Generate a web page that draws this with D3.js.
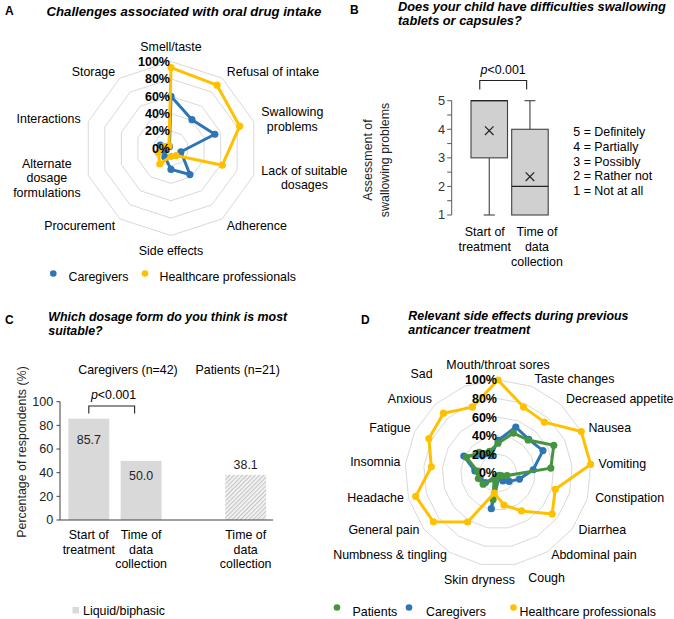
<!DOCTYPE html>
<html><head><meta charset="utf-8">
<script src="https://cdn.jsdelivr.net/npm/d3@7"></script>
<style>body{margin:0;background:#fff} svg{display:block} text{font-family:"Liberation Sans",Arial,sans-serif;}</style>
</head><body><svg id="chart" width="674" height="619"></svg>
<script>
// ---------- DATA ----------
// Panel A
const challengeCategories = ["Smell/taste","Refusal of intake","Swallowing\nproblems","Lack of suitable\ndosages","Adherence","Side effects","Procurement","Alternate\ndosage\nformulations","Interactions","Storage"];
const challengeCaregivers = [60,41,53,12,37,24,12,8,13,3];
const challengeHCP = [93,90,83,62,10,9,22,15,8,4];
const radarTicks = [0,20,40,60,80,100];

// Panel B
const boxCategories = ["Start of\ntreatment","Time of\ndata\ncollection"];
const boxMin = [1,1];
const boxQ1 = [3,1];
const boxMedian = [5,2];
const boxQ3 = [5,4];
const boxMax = [5,5];
const boxMean = [3.95,2.34];
const boxTicks = [1,2,3,4,5];
const boxScaleLabels = ["5 = Definitely","4 = Partially","3 = Possibly","2 = Rather not","1 = Not at all"];

// Panel C
const dosageSlots = ["cgStart","cgTime","spacer","ptTime"];
const dosageBarKeys = ["cgStart","cgTime","ptTime"];
const dosageBarLabels = ["Start of\ntreatment","Time of\ndata\ncollection","Time of\ndata\ncollection"];
const dosageValues = [85.7,50.0,38.1];
const dosageTicks = [0,20,40,60,80,100];
const dosageGroups = ["Caregivers (n=42)","Patients (n=21)"];

// Panel D
const sideEffectCategories = ["Mouth/throat sores","Taste changes","Decreased appetite","Nausea","Vomiting","Constipation","Diarrhea","Abdominal pain","Cough","Skin dryness","Numbness & tingling","General pain","Headache","Insomnia","Fatigue","Anxious","Sad"];
const sideEffectPatients   = [32,46,48,67,57,10,5,3,3,29,8,20,22,22,38,30,25];
const sideEffectCaregivers = [35,53,49,54,38,24,15,10,5,39,5,17,20,25,41,25,20];
const sideEffectHCP        = [100,76,74,100,100,64,73,48,35,22,62,87,92,72,83,87,76];

// ---------- STYLE ----------
const FS = 12.4;
const BLUE = "#2E75B6", YELLOW = "#FFC000", GREEN = "#479440";
const svg = d3.select("#chart");
svg.append("rect").attr("width",674).attr("height",619).attr("fill","#fff");
const defs = svg.append("defs");
const pat = defs.append("pattern").attr("id","hatch").attr("patternUnits","userSpaceOnUse")
  .attr("width",3).attr("height",3).attr("patternTransform","rotate(45)");
pat.append("rect").attr("width",3).attr("height",3).attr("fill","#f4f4f4");
pat.append("line").attr("x1",0.5).attr("y1",0).attr("x2",0.5).attr("y2",3).attr("stroke","#c4c4c4").attr("stroke-width",1.2);

function multiText(g, str, x, y, lh, opts={}) {
  const lines = str.split("\n");
  const n = lines.length;
  const t = g.append("text").attr("font-size", opts.size||FS).attr("fill", opts.fill||"#000")
    .attr("text-anchor","middle");
  if (opts.weight) t.attr("font-weight", opts.weight);
  if (opts.style) t.attr("font-style", opts.style);
  lines.forEach((l,i)=>t.append("tspan").attr("x",0).attr("y",(i-(n-1)/2)*lh).attr("dy","0.35em").text(l));
  let w = 0;
  t.selectAll("tspan").each(function(){ w = Math.max(w, this.getComputedTextLength()); });
  let cx = x;
  if (opts.anchor === "start") cx = x + w/2;
  else if (opts.anchor === "end") cx = x - w/2;
  t.attr("transform", `translate(${cx},${y})`);
  return t;
}
function leftText(g, str, x, y, lh, opts={}) {
  const lines = str.split("\n");
  const t = g.append("text").attr("font-size", opts.size||FS).attr("fill", opts.fill||"#000");
  if (opts.weight) t.attr("font-weight", opts.weight);
  if (opts.style) t.attr("font-style", opts.style);
  lines.forEach((l,i)=>t.append("tspan").attr("x",x).attr("y",y+i*lh).attr("dy","0.35em").text(l));
  return t;
}

// ---------- RADAR ----------
function radar(g, cx, cy, R, cats, series, nudges) {
  const n = cats.length;
  const ang = i => i*2*Math.PI/n;
  const r = d3.scaleLinear().domain([0,100]).range([0,R]);
  const root = g.append("g").attr("transform",`translate(${cx},${cy})`);
  radarTicks.filter(v=>v>0).forEach(v=>{
    const pts = d3.range(n).map(i=>[r(v)*Math.sin(ang(i)), -r(v)*Math.cos(ang(i))]);
    root.append("polygon").attr("points", pts.map(p=>p.join(",")).join(" "))
      .attr("fill","none").attr("stroke","#d9d9d9").attr("stroke-width",1);
  });
  const line = d3.lineRadial().angle((d,i)=>ang(i)).radius(d=>r(d)).curve(d3.curveLinearClosed);
  series.forEach(s=>{
    root.append("path").datum(s.values).attr("d", line).attr("fill","none")
      .attr("stroke", s.color).attr("stroke-width",3).attr("stroke-linejoin","round");
    root.selectAll(null).data(s.values).join("circle")
      .attr("cx",(d,i)=>r(d)*Math.sin(ang(i))).attr("cy",(d,i)=>-r(d)*Math.cos(ang(i)))
      .attr("r",3.6).attr("fill", s.color);
  });
  const RL = R + 8, lh = 14.5;
  cats.forEach((c,i)=>{
    const a = ang(i), s = Math.sin(a), co = Math.cos(a);
    let px = RL*s, py = -RL*co;
    const nl = c.split("\n").length;
    let anchor = "middle";
    if (s > 0.2) anchor = "start"; else if (s < -0.2) anchor = "end";
    if (anchor === "middle") py += -co*(nl*lh)/2;
    const nd = (nudges && nudges[c]) || [0,0];
    multiText(root, c, px+nd[0], py+nd[1], lh, {anchor});
  });
  radarTicks.forEach(v=>{
    root.append("text").attr("x",-1).attr("y",-r(v)).attr("dy","0.35em")
      .attr("text-anchor","end").attr("font-size",12.5).attr("font-weight","bold").attr("fill","#000")
      .text(v+"%");
  });
}

// ---------- PANEL A ----------
const gA = svg.append("g");
gA.append("text").attr("x",5).attr("y",11).attr("dy","0.35em").attr("font-size",12).attr("font-weight","bold").text("A");
leftText(gA, "Challenges associated with oral drug intake", 46.5, 11, 14, {weight:"bold", style:"italic", size:13.2});
radar(gA, 171, 148.5, 87, challengeCategories, [
  {values: challengeCaregivers, color: BLUE},
  {values: challengeHCP, color: YELLOW}
], {});
gA.append("circle").attr("cx",53.3).attr("cy",273.5).attr("r",3.3).attr("fill",BLUE);
leftText(gA, "Caregivers", 68.5, 277, 14);
gA.append("circle").attr("cx",145).attr("cy",273.5).attr("r",3.3).attr("fill",YELLOW);
leftText(gA, "Healthcare professionals", 159.5, 277, 14);

// ---------- PANEL B ----------
const gB = svg.append("g");
gB.append("text").attr("x",350).attr("y",10).attr("dy","0.35em").attr("font-size",12).attr("font-weight","bold").text("B");
leftText(gB, "Does your child have difficulties swallowing\ntablets or capsules?", 398, 6.5, 14.5, {weight:"bold", style:"italic", size:12.8});
const yB = d3.scaleLinear().domain([1,5]).range([215,100.7]);
const xB = d3.scaleBand().domain(boxCategories).range([471,548.2]).paddingInner(0.103).paddingOuter(0);
const axisX = 451.7;
gB.append("line").attr("x1",axisX).attr("x2",axisX).attr("y1",yB(5)).attr("y2",yB(1)).attr("stroke","#595959").attr("stroke-width",1);
d3.range(1,5.01,0.5).forEach(v=>{
  gB.append("line").attr("x1",axisX-4.5).attr("x2",axisX).attr("y1",yB(v)).attr("y2",yB(v)).attr("stroke","#595959").attr("stroke-width",1);
});
boxTicks.forEach(v=>{
  gB.append("text").attr("x",axisX-6.5).attr("y",yB(v)).attr("dy","0.35em").attr("text-anchor","end")
    .attr("font-size",12.8).attr("fill","#333").text(v);
});
const boxLabelShift = [-4.5, 7];
boxCategories.forEach((c,i)=>{
  const x0 = xB(c), bw = xB.bandwidth(), xc = x0 + bw/2;
  const st = "#404040";
  if (boxMax[i] > boxQ3[i]) {
    gB.append("line").attr("x1",xc).attr("x2",xc).attr("y1",yB(boxMax[i])).attr("y2",yB(boxQ3[i])).attr("stroke",st).attr("stroke-width",1.1);
    gB.append("line").attr("x1",xc-5.5).attr("x2",xc+5.5).attr("y1",yB(boxMax[i])).attr("y2",yB(boxMax[i])).attr("stroke",st).attr("stroke-width",1.1);
  }
  if (boxMin[i] < boxQ1[i]) {
    gB.append("line").attr("x1",xc).attr("x2",xc).attr("y1",yB(boxQ1[i])).attr("y2",yB(boxMin[i])).attr("stroke",st).attr("stroke-width",1.1);
    gB.append("line").attr("x1",xc-5.5).attr("x2",xc+5.5).attr("y1",yB(boxMin[i])).attr("y2",yB(boxMin[i])).attr("stroke",st).attr("stroke-width",1.1);
  }
  gB.append("rect").attr("x",x0).attr("y",yB(boxQ3[i])).attr("width",bw).attr("height",yB(boxQ1[i])-yB(boxQ3[i]))
    .attr("fill","#d0d0d0").attr("stroke",st).attr("stroke-width",1.1);
  gB.append("line").attr("x1",x0).attr("x2",x0+bw).attr("y1",yB(boxMedian[i])).attr("y2",yB(boxMedian[i])).attr("stroke","#222").attr("stroke-width",1.3);
  const my = yB(boxMean[i]), s = 4.3;
  gB.append("path").attr("d",`M${xc-s},${my-s}L${xc+s},${my+s}M${xc-s},${my+s}L${xc+s},${my-s}`).attr("stroke","#222").attr("stroke-width",1.2);
  multiText(gB, c, xc + boxLabelShift[i], 231.7 + (c.split("\n").length-1)*7.5, 15, {});
});
{
  const xa = xB(boxCategories[0]) + xB.bandwidth()/2 - 9.5, xb = xB(boxCategories[1]) + xB.bandwidth()/2 - 3.3;
  gB.append("path").attr("d",`M${xa},89.5V80.5H${xb}V89.5`).attr("fill","none").attr("stroke","#222").attr("stroke-width",1.1);
  const t = gB.append("text").attr("x",(xa+xb)/2).attr("y",70).attr("dy","0.35em").attr("text-anchor","middle").attr("font-size",FS);
  t.append("tspan").attr("font-style","italic").text("p");
  t.append("tspan").text("<0.001");
}
{
  const t = gB.append("text").attr("transform","translate(376.5,160) rotate(-90)").attr("text-anchor","middle").attr("font-size",FS).attr("fill","#222");
  t.append("tspan").attr("x",0).attr("y",-8.5).attr("dy","0.35em").text("Assessment of");
  t.append("tspan").attr("x",0).attr("y",8.5).attr("dy","0.35em").text("swallowing problems");
}
boxScaleLabels.forEach((s,i)=>leftText(gB, s, 573.3, 131.7 + i*14.8, 14));

// ---------- PANEL C ----------
const gC = svg.append("g");
gC.append("text").attr("x",5).attr("y",320).attr("dy","0.35em").attr("font-size",12).attr("font-weight","bold").text("C");
leftText(gC, "Which dosage form do you think is most\nsuitable?", 48.3, 317, 13.8, {weight:"bold", style:"italic"});
const yC = d3.scaleLinear().domain([0,100]).range([520,401.7]);
const xC = d3.scaleBand().domain(dosageSlots).range([60,274.5]).paddingInner(0.218).paddingOuter(0.16);
gC.append("line").attr("x1",60).attr("x2",60).attr("y1",yC(100)).attr("y2",yC(0)).attr("stroke","#404040");
dosageTicks.forEach(v=>{
  gC.append("line").attr("x1",56.5).attr("x2",60).attr("y1",yC(v)).attr("y2",yC(v)).attr("stroke","#404040");
  gC.append("text").attr("x",53.3).attr("y",yC(v)).attr("dy","0.35em").attr("text-anchor","end").attr("font-size",12.6).attr("fill","#222").text(v);
});
const labelOffsets = [21,14.5,-10];
dosageBarKeys.forEach((k,i)=>{
  const x0 = xC(k), bw = xC.bandwidth();
  gC.append("rect").attr("x",x0).attr("y",yC(dosageValues[i])).attr("width",bw).attr("height",yC(0)-yC(dosageValues[i]))
    .attr("fill", k==="ptTime" ? "url(#hatch)" : "#d9d9d9");
  gC.append("text").attr("x",x0+bw/2).attr("y",yC(dosageValues[i])+labelOffsets[i]).attr("dy","0.35em")
    .attr("text-anchor","middle").attr("font-size",FS).attr("fill","#222").text(dosageValues[i].toFixed(1));
  const lab = dosageBarLabels[i];
  multiText(gC, lab, x0+bw/2, 535 + (lab.split("\n").length-1)*7.25, 14.5, {});
});
gC.append("line").attr("x1",60).attr("x2",273).attr("y1",yC(0)).attr("y2",yC(0)).attr("stroke","#404040");
multiText(gC, dosageGroups[0], (xC("cgStart")+xC("cgTime")+xC.bandwidth())/2 + 13, 370, 14, {});
multiText(gC, dosageGroups[1], xC("ptTime")+xC.bandwidth()/2 - 8, 370, 14, {});
{
  const xa = xC("cgStart")+xC.bandwidth()/2, xb = xC("cgTime")+xC.bandwidth()/2 - 6.5;
  gC.append("path").attr("d",`M${xa},413.5V406H${xb}V413.5`).attr("fill","none").attr("stroke","#222").attr("stroke-width",1.1);
  const t = gC.append("text").attr("x",113.5).attr("y",395).attr("dy","0.35em").attr("text-anchor","middle").attr("font-size",FS);
  t.append("tspan").attr("font-style","italic").text("p");
  t.append("tspan").text("<0.001");
}
gC.append("text").attr("transform","translate(21.7,452) rotate(-90)").attr("dy","0.35em").attr("text-anchor","middle")
  .attr("font-size",FS).attr("fill","#222").text("Percentage of respondents (%)");
gC.append("rect").attr("x",72.5).attr("y",607).attr("width",6.5).attr("height",6.5).attr("fill","#d9d9d9");
leftText(gC, "Liquid/biphasic", 83, 610.5, 14);

// ---------- PANEL D ----------
const gD = svg.append("g");
gD.append("text").attr("x",361).attr("y",320).attr("dy","0.35em").attr("font-size",12).attr("font-weight","bold").text("D");
leftText(gD, "Relevant side effects during previous\nanticancer treatment", 408.3, 316, 13.8, {weight:"bold", style:"italic"});
radar(gD, 498, 473, 93, sideEffectCategories, [
  {values: sideEffectCaregivers, color: BLUE},
  {values: sideEffectPatients, color: GREEN},
  {values: sideEffectHCP, color: YELLOW}
], {"Sad":[-29,-5], "Cough":[30,-2], "Numbness & tingling":[2,-4], "General pain":[2,-4], "Headache":[3,-3],
    "Constipation":[0,-3], "Diarrhea":[0,-4], "Abdominal pain":[0,-4], "Insomnia":[3,-2], "Fatigue":[3,0], "Anxious":[2,0]});
gD.append("circle").attr("cx",337).attr("cy",607.5).attr("r",3.3).attr("fill",GREEN);
leftText(gD, "Patients", 352.5, 611.5, 14);
gD.append("circle").attr("cx",409).attr("cy",607.5).attr("r",3.3).attr("fill",BLUE);
leftText(gD, "Caregivers", 426, 611.5, 14);
gD.append("circle").attr("cx",513.5).attr("cy",607.5).attr("r",3.3).attr("fill",YELLOW);
leftText(gD, "Healthcare professionals", 519.5, 611.5, 14);
</script>
</body></html>
